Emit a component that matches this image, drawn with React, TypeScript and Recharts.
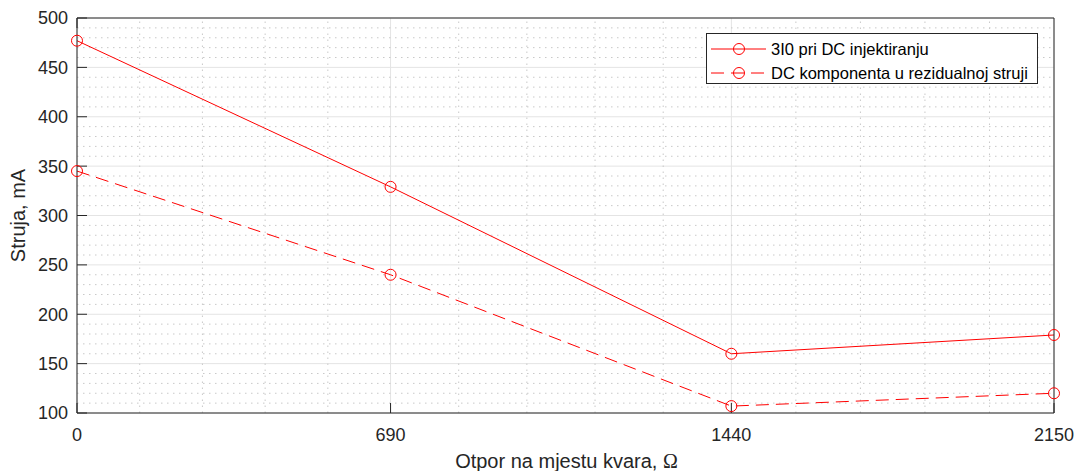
import React from 'react';
import {
  LineChart,
  Line,
  XAxis,
  YAxis,
  CartesianGrid,
  ReferenceLine,
  Legend,
} from 'recharts';

// otpor na mjestu kvara (Ohm)
const otpor = [0, 690, 1440, 2150];
// 3I0 pri DC injektiranju (mA)
const struja3I0 = [477, 329, 160, 179];
// DC komponenta u rezidualnoj struji (mA)
const strujaDC = [345, 240, 107, 120];

const xTicks = [0, 690, 1440, 2150];
const yTicks = [100, 150, 200, 250, 300, 350, 400, 450, 500];
const xMinor = [138, 276, 414, 552, 840, 990, 1140, 1290, 1582, 1724, 1866, 2008];
const yMinor = [
  110, 120, 130, 140, 160, 170, 180, 190, 210, 220, 230, 240, 260, 270, 280, 290,
  310, 320, 330, 340, 360, 370, 380, 390, 410, 420, 430, 440, 460, 470, 480, 490,
];

const seriesNames = ['3I0 pri DC injektiranju', 'DC komponenta u rezidualnoj struji'];

const rows = otpor.map((r, i) => ({ r, a: struja3I0[i], b: strujaDC[i] }));

const FONT = '"Liberation Sans", Arial, Helvetica, sans-serif';
const AXIS = '#262626';
const RED = '#ff0000';
const DASH = '13 7';

const NoTick = () => <g />;

const XLabel = ({ viewBox }: any) => {
  const { x, y, width } = viewBox;
  return (
    <text
      x={x + width / 2 + 1}
      y={y + 55}
      textAnchor="middle"
      fontSize={20}
      fontFamily={FONT}
      fill={AXIS}
    >
      Otpor na mjestu kvara,{' '}
      <tspan fontFamily='"Liberation Serif", "DejaVu Serif", serif'>Ω</tspan>
    </text>
  );
};

const YLabel = ({ viewBox }: any) => {
  const { y, height } = viewBox;
  const cx = 25;
  const cy = y + height / 2;
  return (
    <text
      x={cx}
      y={cy}
      transform={`rotate(-90, ${cx}, ${cy})`}
      textAnchor="middle"
      fontSize={20}
      fontFamily={FONT}
      fill={AXIS}
    >
      Struja, mA
    </text>
  );
};

const LegendBox = () => (
  <svg width={333} height={52} style={{ display: 'block' }}>
    <rect x={0.5} y={0.5} width={331} height={50} fill="#fff" stroke={AXIS} strokeWidth={1} />
    {seriesNames.map((name, i) => {
      const cy = 16 + i * 24;
      return (
        <g key={name}>
          <line
            x1={5}
            x2={60}
            y1={cy}
            y2={cy}
            stroke={RED}
            strokeWidth={1}
            strokeDasharray={i === 1 ? DASH : undefined}
          />
          <circle cx={33} cy={cy} r={5.5} fill="none" stroke={RED} strokeWidth={1} />
          <text x={65} y={cy} dy="0.35em" fontSize={16.5} fontFamily={FONT} fill="#000">
            {name}
          </text>
        </g>
      );
    })}
  </svg>
);

export default function App() {
  return (
    <div style={{ position: 'absolute', left: 0, top: 0, width: 1078, height: 471, background: '#fff' }}>
      <LineChart width={1078} height={471} data={rows} margin={{ top: 17, right: 23, bottom: 0, left: 0 }}>
        <CartesianGrid stroke="#e4e4e4" strokeWidth={1} />
        {xMinor.map((v) => (
          <ReferenceLine key={`x${v}`} x={v} stroke="#c9c9c9" strokeDasharray="1.5 4.5" strokeWidth={1} />
        ))}
        {yMinor.map((v) => (
          <ReferenceLine key={`y${v}`} y={v} stroke="#c9c9c9" strokeDasharray="1.5 4.5" strokeWidth={1} />
        ))}
        <XAxis
          dataKey="r"
          type="number"
          domain={[0, 2150]}
          ticks={xTicks}
          interval={0}
          height={58}
          tickSize={-10}
          tickMargin={25}
          axisLine={{ stroke: AXIS }}
          tickLine={{ stroke: AXIS }}
          tick={{ fontSize: 18, fontFamily: FONT, fill: AXIS }}
          label={<XLabel />}
        />
        <XAxis
          xAxisId="top"
          orientation="top"
          type="number"
          domain={[0, 2150]}
          ticks={xTicks}
          interval={0}
          height={1}
          tickSize={-10}
          tick={<NoTick />}
          axisLine={{ stroke: AXIS }}
          tickLine={{ stroke: AXIS }}
        />
        <YAxis
          type="number"
          domain={[100, 500]}
          ticks={yTicks}
          interval={0}
          width={77}
          tickSize={-10}
          tickMargin={19}
          axisLine={{ stroke: AXIS }}
          tickLine={{ stroke: AXIS }}
          tick={{ fontSize: 18, fontFamily: FONT, fill: AXIS }}
          label={<YLabel />}
        />
        <YAxis
          yAxisId="right"
          orientation="right"
          type="number"
          domain={[100, 500]}
          ticks={yTicks}
          interval={0}
          width={1}
          tickSize={-10}
          tick={<NoTick />}
          axisLine={{ stroke: AXIS }}
          tickLine={{ stroke: AXIS }}
        />
        <Legend
          verticalAlign="middle"
          layout="horizontal"
          content={<LegendBox />}
          wrapperStyle={{ position: 'absolute', left: 706, top: 33, width: 333, height: 52, bottom: 'auto' }}
        />
        <Line
          type="linear"
          dataKey="a"
          name={seriesNames[0]}
          stroke={RED}
          strokeWidth={1}
          dot={{ r: 5.5, fill: 'none', stroke: RED, strokeWidth: 1 }}
          activeDot={false}
          isAnimationActive={false}
        />
        <Line
          type="linear"
          dataKey="b"
          name={seriesNames[1]}
          stroke={RED}
          strokeWidth={1}
          strokeDasharray={DASH}
          dot={{ r: 5.5, fill: 'none', stroke: RED, strokeWidth: 1, strokeDasharray: '' }}
          activeDot={false}
          isAnimationActive={false}
        />
      </LineChart>
    </div>
  );
}
